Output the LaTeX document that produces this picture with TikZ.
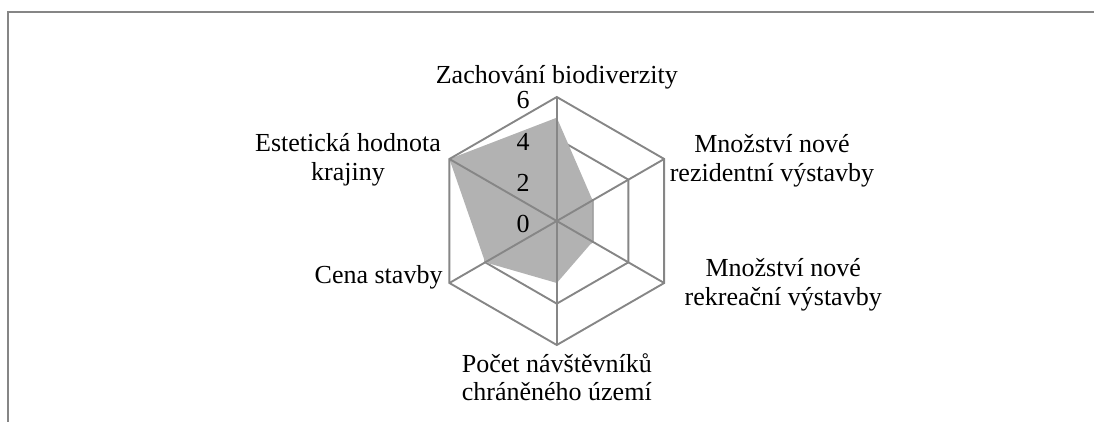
\documentclass[tikz,border=0pt]{standalone}
\usepackage{fontspec}
\setmainfont{Liberation Serif}
\definecolor{gridgray}{RGB}{134,134,134}
\definecolor{areagray}{RGB}{178,178,178}
\tikzset{
    webline/.style={gridgray, line width=1.35pt, line join=miter},
    area/.style={fill=areagray},
    catlabel/.style={align=center, inner sep=0pt, font=\fontsize{18.5}{20.3}\selectfont},
    ticklabel/.style={inner sep=0pt, font=\fontsize{18.5}{20.3}\selectfont},
}

\begin{document}
\begin{tikzpicture}
    \useasboundingbox (-13.92,-5.025) rectangle (13.43,5.525);
    % chart frame (top and left only)
    \draw[gridgray, line width=1.35pt] (-13.72,-5.1) -- (-13.72,5.225) -- (13.5,5.225);

    \coordinate (c) at (0,0);
    % inner rings (under the area)
    \foreach \r in {1.0333, 2.0667}
        \draw[webline] (90:\r) -- (30:\r) -- (-30:\r) -- (-90:\r) -- (-150:\r) -- (150:\r) -- cycle;

    % data area
    \fill[area] (90:2.583) -- (30:1.033) -- (-30:1.033) -- (-90:1.55) -- (-150:2.067) -- (150:3.1) -- cycle;

    % outer ring and spokes
    \foreach \a/\n in {90/a1, 30/a2, -30/a3, -90/a4, -150/a5, 150/a6}
        \coordinate (\n) at (\a:3.1);
    \draw[webline] (a1) -- (a2) -- (a3) -- (a4) -- (a5) -- (a6) -- cycle;
    \foreach \n in {a1, a2, a3, a4, a5, a6}
        \draw[webline] (c) -- (\n);

    % value labels
    \foreach \v/\r in {0/0, 2/1.0333, 4/2.0667, 6/3.1}
        \node[ticklabel] (t\v) at (-0.84, \r-0.08) {\v};

    % category labels
    \node[catlabel] (biodiv) at (0, 3.585) {Zachování biodiverzity};
    \node[catlabel] (rezid) at (5.38, 1.5) {Množství nové\\rezidentní výstavby};
    \node[catlabel] (rekrea) at (5.66, -1.6) {Množství nové\\rekreační výstavby};
    \node[catlabel] (navst) at (0, -3.9) {Počet návštěvníků\\chráněného území};
    \node[catlabel] (cena) at (-4.455, -1.4) {Cena stavby};
    \node[catlabel] (estet) at (-5.22, 1.525) {Estetická hodnota\\krajiny};
\end{tikzpicture}
\end{document}
